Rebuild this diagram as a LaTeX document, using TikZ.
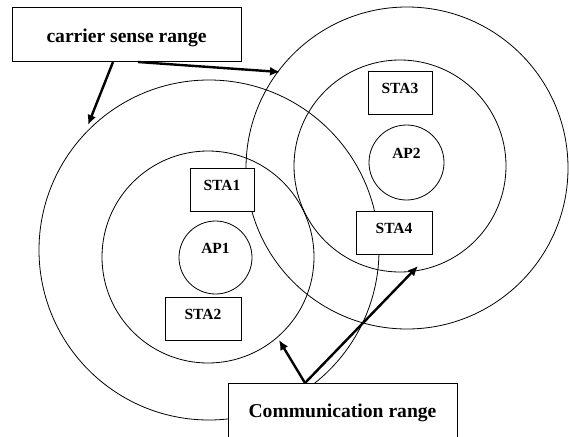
\documentclass[tikz,border=0pt]{standalone}
\usepackage{fontspec}
\setmainfont{Liberation Serif}
\usetikzlibrary{arrows.meta}
\tikzset{
  ring/.style={draw, circle, line width=0.8pt, inner sep=0pt},
  apnode/.style={draw, circle, fill=white, line width=0.8pt, inner sep=0pt,
    font=\fontsize{15.5}{17}\selectfont\bfseries, text depth=19pt, text height=10pt},
  stabox/.style={draw, rectangle, fill=white, line width=1pt, inner sep=0pt,
    minimum height=43pt, font=\fontsize{15.5}{17}\selectfont\bfseries,
    text depth=8pt, text height=10pt},
  labelbox/.style={draw, rectangle, fill=white, line width=1pt, inner xsep=0pt, inner ysep=0pt,
    font=\fontsize{19.6}{22}\selectfont\bfseries},
  arr/.style={line width=2.4pt, -{Latex[length=10pt,width=9pt]}}
}
\begin{document}
\begin{tikzpicture}[x=1pt,y=-1pt]
\useasboundingbox (0,0) rectangle (569,436);
\clip (0,0) rectangle (569,436);
% range circles
\node[ring, minimum size=340pt] (csA) at (209,250) {};
\node[ring, minimum size=212pt] (crA) at (208,257) {};
\node[ring, minimum size=322pt] (csB) at (407,168) {};
\node[ring, minimum size=212pt] (crB) at (400,166) {};
% access points
\node[apnode, minimum size=73pt] (ap1) at (215.5,257.5) {AP1};
\node[apnode, minimum size=75pt] (ap2) at (406.5,162.5) {AP2};
% stations
\node[stabox, minimum width=64pt] (sta1) at (222,189.5) {STA1};
\node[stabox, minimum width=76pt] (sta2) at (203,318.5) {STA2};
\node[stabox, minimum width=64pt] (sta3) at (400,92.5) {STA3};
\node[stabox, minimum width=76pt] (sta4) at (394,232.5) {STA4};
% label boxes
\node[labelbox, minimum width=229pt, text height=35pt, text depth=19pt, anchor=north] (cs) at (126.5,7) {carrier sense range};
\node[labelbox, minimum width=229pt, text height=34pt, text depth=40pt, anchor=north] (cm) at (342.5,383) {Communication range};
% arrow targets
\coordinate (t1) at (88,125);
\coordinate (t2) at (280,72);
\coordinate (t3) at (279,340);
\coordinate (t4) at (418,266);
\draw[arr] ([xshift=-13.5pt]cs.south) -- (t1);
\draw[arr] ([xshift=11.5pt]cs.south) -- (t2);
\draw[arr] ([xshift=-37.5pt]cm.north) -- (t3);
\draw[arr] ([xshift=-37.5pt]cm.north) -- (t4);
\end{tikzpicture}
\end{document}
